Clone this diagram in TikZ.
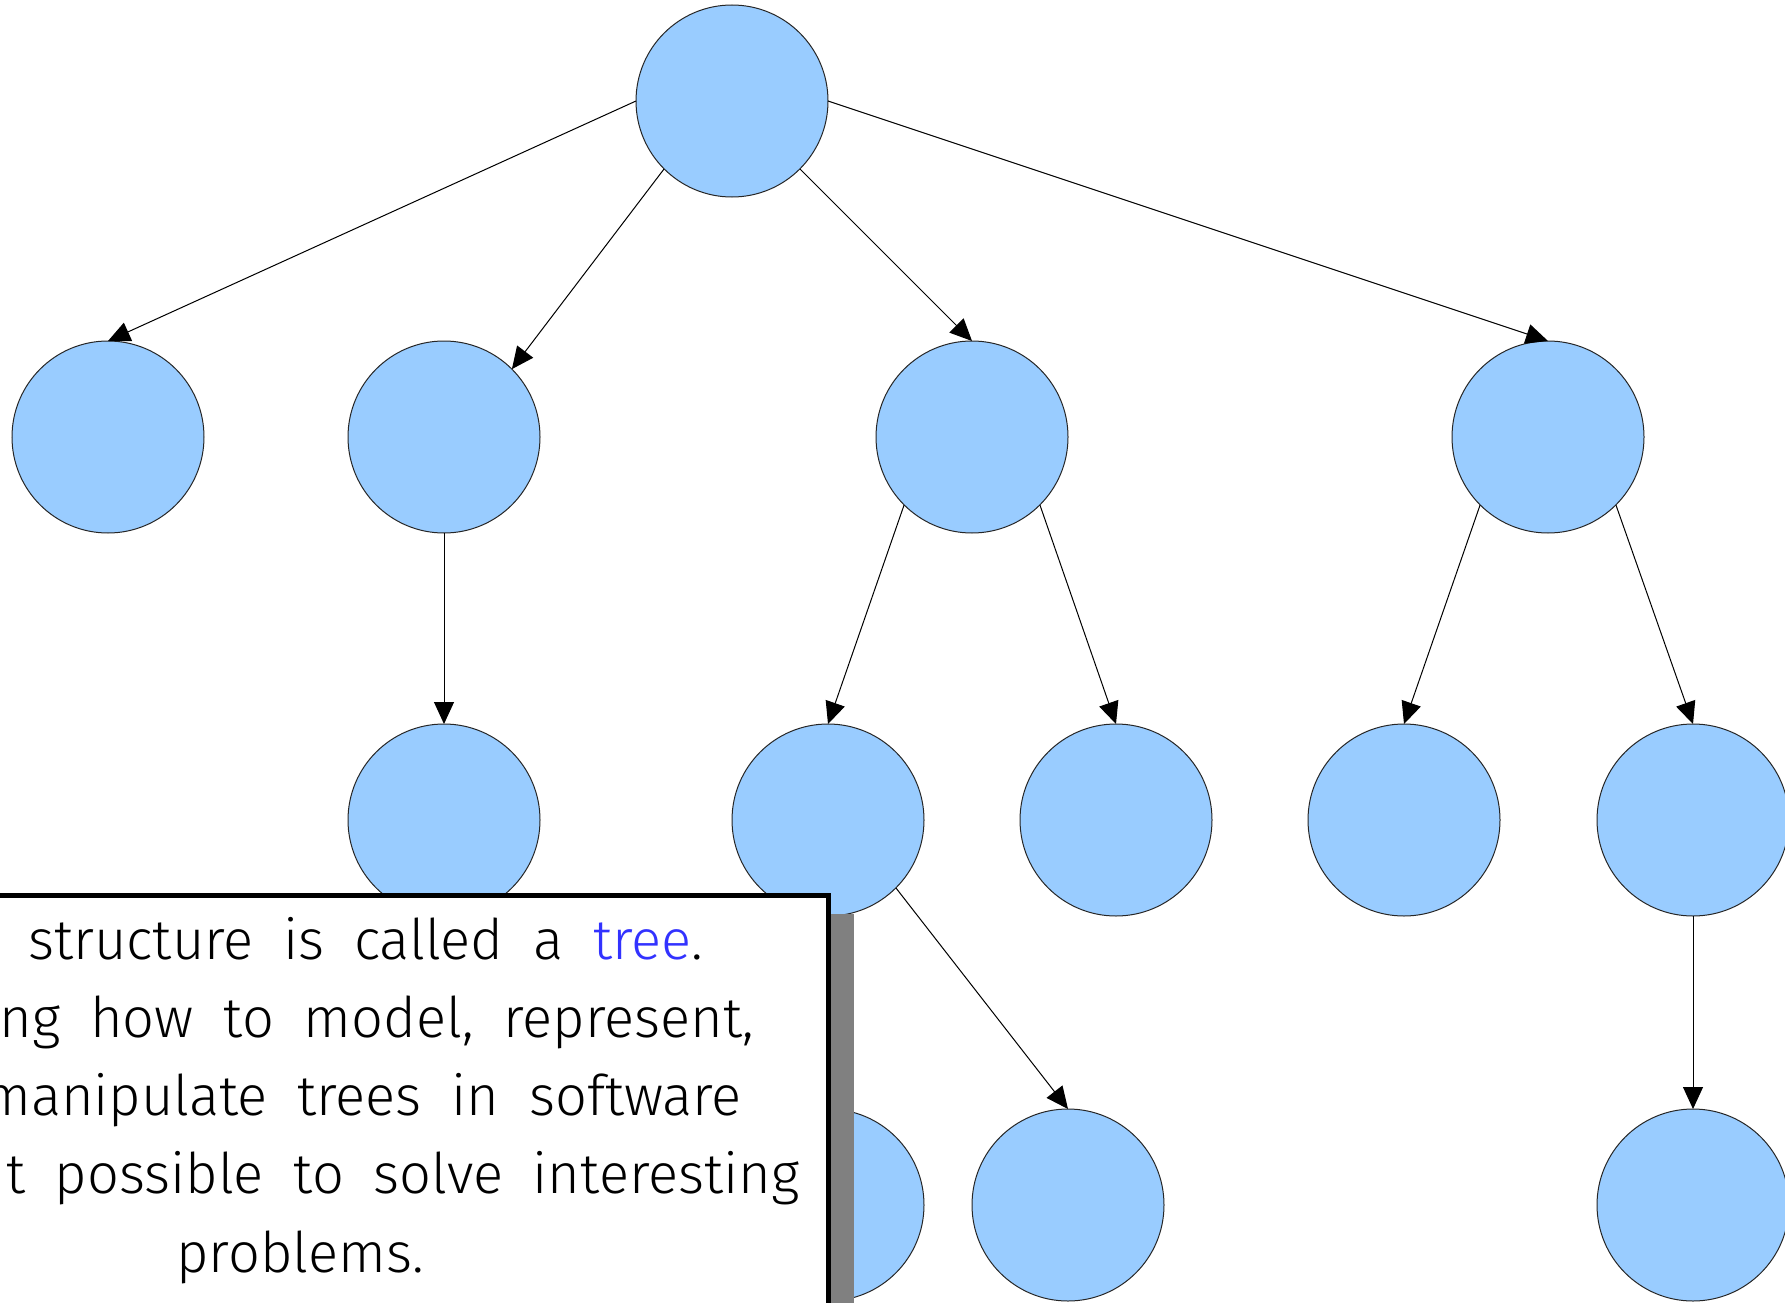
\documentclass[tikz,border=0pt]{standalone}
\usepackage{fontspec}
\setmainfont{Fira Sans}[UprightFont=* Light, WordSpace=1.9]
\usetikzlibrary{arrows.meta}
\definecolor{nodeblue}{RGB}{153,204,255}
\definecolor{treeblue}{RGB}{50,50,255}
\definecolor{shadowgray}{RGB}{128,128,128}
\tikzset{
  treenode/.style={circle, draw=black!85, line width=1pt, fill=nodeblue,
    minimum size=192pt, inner sep=0pt, outer sep=0pt},
  link/.style={line width=1pt, -{Triangle[length=22pt,width=20pt]}},
  noteline/.style={anchor=base, inner sep=0pt, font=\fontsize{56}{78}\selectfont}
}
\begin{document}
\begin{tikzpicture}[x=1pt, y=-1pt]
  \useasboundingbox (0,0) rectangle (1785,1303);
  \clip (0,0) rectangle (1785,1303);

  % the tree
  \node[treenode] (root) at (732,101) {};
  \node[treenode] (a) at (108,437) {};
  \node[treenode] (b) at (444,437) {};
  \node[treenode] (c) at (972,437) {};
  \node[treenode] (d) at (1548,437) {};
  \node[treenode] (e) at (444,820) {};
  \node[treenode] (f) at (828,820) {};
  \node[treenode] (g) at (1116,820) {};
  \node[treenode] (h) at (1404,820) {};
  \node[treenode] (i) at (1693,820) {};
  \node[treenode] (j) at (828,1205) {};
  \node[treenode] (k) at (1068,1205) {};
  \node[treenode] (l) at (1693,1205) {};

  \draw[link] (root.west) -- (a.north);
  \draw[link] (root.south west) -- (b.north east);
  \draw[link] (root.south east) -- (c.north);
  \draw[link] (root.east) -- (d.north);
  \draw[link] (b.south) -- (e.north);
  \draw[link] (c.south west) -- (f.north);
  \draw[link] (c.south east) -- (g.north);
  \draw[link] (d.south west) -- (h.north);
  \draw[link] (d.south east) -- (i.north);
  \draw[link] (f.south east) -- (k.north);
  \draw[link] (i.south) -- (l.north);

  % caption card with its drop shadow
  \fill[shadowgray] (4,914) rectangle (854,1340);
  \draw[line width=5pt, fill=white] (-20,895) rectangle (828,1330);

  \node[noteline] (t1) at (300,959) {This structure is called a \textcolor{treeblue}{tree}.};
  \node[noteline] (t2) at (300,1037) {Learning how to model, represent,};
  \node[noteline] (t3) at (300,1115) {and manipulate trees in software};
  \node[noteline] (t4) at (300,1193) {makes it possible to solve interesting};
  \node[noteline] (t5) at (300,1272) {problems.};
\end{tikzpicture}
\end{document}
